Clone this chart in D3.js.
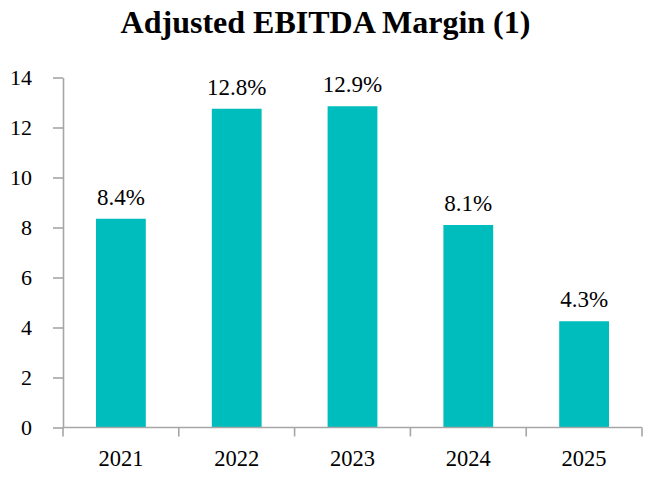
<!DOCTYPE html>
<html>
<head>
<meta charset="utf-8">
<script src="https://cdn.jsdelivr.net/npm/d3@7"></script>
<style>
  html, body { margin: 0; padding: 0; background: #fff; }
  svg { display: block; }
  svg text { font-family: "Liberation Serif", "DejaVu Serif", serif; }
</style>
</head>
<body>
<svg id="chart" width="652" height="480"></svg>
<script>
// Datos ---------------------------------------------------------------
const years = ["2021", "2022", "2023", "2024", "2025"];
const barValues = [8.35, 12.75, 12.85, 8.1, 4.25];
const valueLabels = ["8.4%", "12.8%", "12.9%", "8.1%", "4.3%"];
const yTicks = [0, 2, 4, 6, 8, 10, 12, 14];
const title = "Adjusted EBITDA Margin (1)";

// Configuración -------------------------------------------------------
const width = 652;
const height = 480;
const margin = { top: 77.5, right: 10, bottom: 52.5, left: 63 };
const axisColor = "#a6a6a6";
const barColor = "#00bdbd";
const serif = "'Liberation Serif', 'DejaVu Serif', serif";

const svg = d3.select("#chart");

const x = d3.scaleBand()
    .domain(years)
    .range([margin.left, width - margin.right])
    .paddingInner(0)
    .paddingOuter(0);

const y = d3.scaleLinear()
    .domain([0, 14])
    .range([height - margin.bottom, margin.top]);

const barW = x.bandwidth() * 0.43;

// Título
svg.append("text")
    .attr("x", 325.5)
    .attr("y", 33)
    .attr("text-anchor", "middle")
    .attr("font-family", serif)
    .attr("font-size", 32)
    .attr("font-weight", "bold")
    .attr("fill", "#000")
    .text(title);

// Barras
svg.append("g")
    .selectAll("rect")
    .data(years)
    .join("rect")
    .attr("x", (d) => x(d) + x.bandwidth() / 2 - barW / 2)
    .attr("y", (d, i) => y(barValues[i]))
    .attr("width", barW)
    .attr("height", (d, i) => y(0) - y(barValues[i]))
    .attr("fill", barColor);

// Etiquetas de valor
svg.append("g")
    .selectAll("text")
    .data(years)
    .join("text")
    .attr("x", (d) => x(d) + x.bandwidth() / 2)
    .attr("y", (d, i) => y(barValues[i]) - 14)
    .attr("text-anchor", "middle")
    .attr("font-family", serif)
    .attr("font-size", 23)
    .attr("fill", "#000")
    .text((d, i) => valueLabels[i]);

// Eje Y
const yAxis = svg.append("g")
    .attr("transform", `translate(${margin.left},0)`)
    .call(d3.axisLeft(y).tickValues(yTicks).tickSize(10).tickSizeOuter(0).tickPadding(21));
yAxis.attr("font-family", serif).attr("font-size", 22);
yAxis.select(".domain").attr("stroke", axisColor).attr("stroke-width", 1.6);
yAxis.selectAll(".tick line").attr("stroke", axisColor).attr("stroke-width", 1.6);
yAxis.selectAll(".tick text").attr("fill", "#000");

// Eje X: marcas en los límites de cada categoría
const xg = svg.append("g").attr("transform", `translate(0,${y(0)})`);
xg.append("line")
    .attr("x1", margin.left)
    .attr("x2", width - margin.right)
    .attr("stroke", axisColor)
    .attr("stroke-width", 1.6);
const bounds = years.map((d) => x(d)).concat([x(years[years.length - 1]) + x.bandwidth()]);
xg.selectAll("line.tk")
    .data(bounds)
    .join("line")
    .attr("class", "tk")
    .attr("x1", (d) => d)
    .attr("x2", (d) => d)
    .attr("y1", 0)
    .attr("y2", 9)
    .attr("stroke", axisColor)
    .attr("stroke-width", 1.6);
xg.selectAll("text")
    .data(years)
    .join("text")
    .attr("x", (d) => x(d) + x.bandwidth() / 2)
    .attr("y", 38)
    .attr("text-anchor", "middle")
    .attr("font-family", serif)
    .attr("font-size", 22.5)
    .attr("fill", "#000")
    .text((d) => d);
</script>
</body>
</html>
